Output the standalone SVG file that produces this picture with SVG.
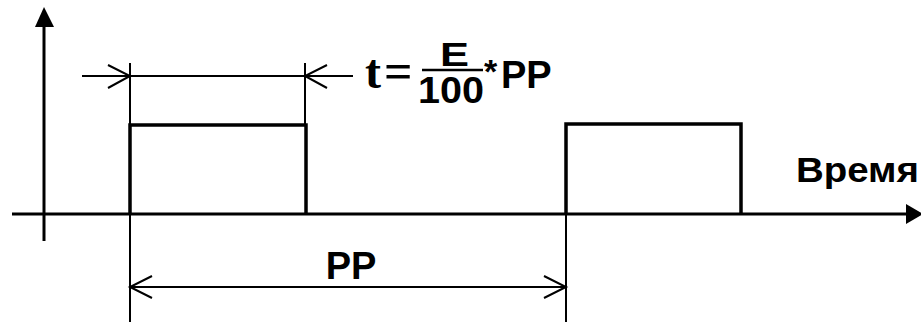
<svg xmlns="http://www.w3.org/2000/svg" width="921" height="322" viewBox="0 0 921 322">
<style>
.axis{stroke:#000;stroke-width:3;fill:none}
.pulse{stroke:#000;stroke-width:3.5;fill:none;stroke-linejoin:miter}
.thin{stroke:#000;stroke-width:2;fill:none}
.lbl{font-family:"Liberation Sans",Arial,sans-serif;font-weight:bold;fill:#000}
.tms{font-family:"Liberation Serif","Times New Roman",serif;font-weight:bold;fill:#000}
</style>
<rect width="921" height="322" fill="#fff"/>
<g id="axes">
<line class="axis" x1="44" y1="24" x2="44" y2="241"/>
<polygon points="44,7 35,27 54,27" fill="#000"/>
<line class="axis" x1="12" y1="214" x2="910" y2="214"/>
<polygon points="923,214 906,204 906,224" fill="#000"/>
</g>
<g id="pulse1"><polyline class="pulse" points="130,214 130,125 306,125 306,214"/></g>
<g id="pulse2"><polyline class="pulse" points="566,214 566,124 741,124 741,214"/></g>
<g id="connectors">
<line class="thin" x1="130" y1="63" x2="130" y2="125"/>
<line class="thin" x1="305" y1="63" x2="305" y2="125"/>
<line class="thin" x1="82" y1="76" x2="130" y2="76"/>
<polyline class="thin" points="108,65 130,76 108,88"/>
<line class="thin" x1="130" y1="76" x2="305" y2="76"/>
<line class="thin" x1="305" y1="76" x2="353" y2="76"/>
<polyline class="thin" points="327,65 305,76 327,88"/>
<line class="thin" x1="130" y1="214" x2="130" y2="322"/>
<line class="thin" x1="566" y1="214" x2="566" y2="322"/>
<line class="thin" x1="130" y1="287" x2="566" y2="287"/>
<polyline class="thin" points="152,276 130,287 152,298"/>
<polyline class="thin" points="544,276 566,287 544,298"/>
</g>
<g id="formula">
<text class="tms" x="365" y="88" font-size="48">t</text>
<text class="tms" x="384" y="88" font-size="50" font-weight="normal">=</text>
<text class="lbl" x="440" y="66" font-size="34" textLength="29" lengthAdjust="spacingAndGlyphs">E</text>
<line x1="422" y1="70" x2="483" y2="70" stroke="#000" stroke-width="2.5"/>
<text class="lbl" x="418" y="103" font-size="36" textLength="66" lengthAdjust="spacingAndGlyphs">100</text>
<text class="lbl" x="484" y="83" font-size="34">*</text>
<text class="lbl" x="501" y="88" font-size="38">PP</text>
</g>
<g id="label-pp"><text class="lbl" x="351" y="279" font-size="38" text-anchor="middle">PP</text></g>
<g id="label-time"><text class="lbl" x="796" y="182" font-size="35" textLength="123" lengthAdjust="spacingAndGlyphs">Время</text></g>
</svg>
